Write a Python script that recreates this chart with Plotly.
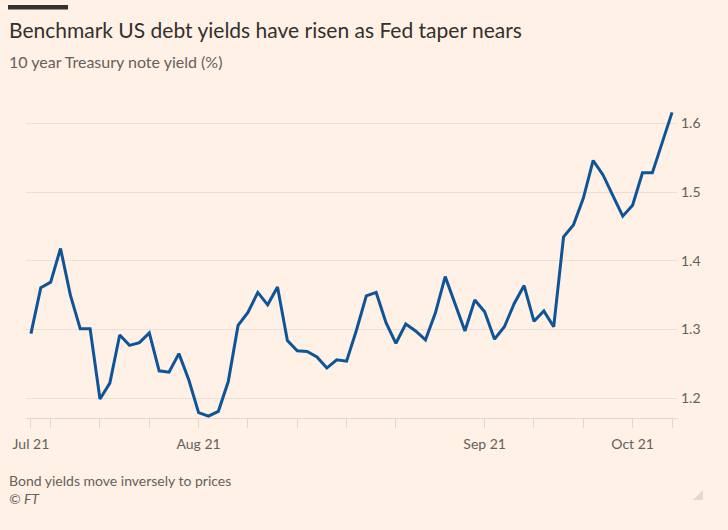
import plotly.graph_objects as go

# Business days (Jul 8 - Oct 8 2021; Sep 6 Labor Day holiday)
dates = [
    "2021-07-08", "2021-07-09",
    "2021-07-12", "2021-07-13", "2021-07-14", "2021-07-15", "2021-07-16",
    "2021-07-19", "2021-07-20", "2021-07-21", "2021-07-22", "2021-07-23",
    "2021-07-26", "2021-07-27", "2021-07-28", "2021-07-29", "2021-07-30",
    "2021-08-02", "2021-08-03", "2021-08-04", "2021-08-05", "2021-08-06",
    "2021-08-09", "2021-08-10", "2021-08-11", "2021-08-12", "2021-08-13",
    "2021-08-16", "2021-08-17", "2021-08-18", "2021-08-19", "2021-08-20",
    "2021-08-23", "2021-08-24", "2021-08-25", "2021-08-26", "2021-08-27",
    "2021-08-30", "2021-08-31", "2021-09-01", "2021-09-02", "2021-09-03",
    "2021-09-07", "2021-09-08", "2021-09-09", "2021-09-10",
    "2021-09-13", "2021-09-14", "2021-09-15", "2021-09-16", "2021-09-17",
    "2021-09-20", "2021-09-21", "2021-09-22", "2021-09-23", "2021-09-24",
    "2021-09-27", "2021-09-28", "2021-09-29", "2021-09-30", "2021-10-01",
    "2021-10-04", "2021-10-05", "2021-10-06", "2021-10-07", "2021-10-08",
]

yields = [
    1.294, 1.361,
    1.369, 1.418, 1.350, 1.301, 1.301,
    1.199, 1.222, 1.292, 1.277, 1.281,
    1.295, 1.240, 1.238, 1.265, 1.227,
    1.179, 1.174, 1.181, 1.224, 1.306,
    1.325, 1.354, 1.336, 1.362, 1.284,
    1.269, 1.268, 1.260, 1.244, 1.256,
    1.254, 1.299, 1.349, 1.354, 1.310,
    1.280, 1.308, 1.298, 1.285, 1.324,
    1.377, 1.336, 1.298, 1.343,
    1.326, 1.286, 1.304, 1.338, 1.364,
    1.312, 1.327, 1.304, 1.435, 1.452,
    1.491, 1.546, 1.525, 1.495, 1.465,
    1.481, 1.528, 1.528, 1.573, 1.616,
]

# Tick marks (first day, each Monday, last day) and their labels
tick_dates = [
    "2021-07-08", "2021-07-12", "2021-07-19", "2021-07-26",
    "2021-08-02", "2021-08-09", "2021-08-16", "2021-08-23", "2021-08-30",
    "2021-09-13", "2021-09-20", "2021-09-27", "2021-10-04", "2021-10-08",
]
tick_labels = [
    "Jul 21", "", "", "",
    "Aug 21", "", "", "", "",
    "Sep 21", "", "", "Oct 21", "",
]

y_ticks = [1.2, 1.3, 1.4, 1.5, 1.6]
y_tick_labels = ["1.2", "1.3", "1.4", "1.5", "1.6"]

title = "Benchmark US debt yields have risen as Fed taper nears"
subtitle = "10 year Treasury note yield (%)"
note = "Bond yields move inversely to prices"
source = "© FT"

BG = "#FFF1E5"
LINE = "#0F5499"
TEXT = "#33302E"
MUTED = "#66605C"
GRID = "#EADFD5"
FONT = "Lato, 'Noto Sans', sans-serif"

W, H = 728, 530
ML, MR, MT, MB = 26, 51, 100, 112
PW, PH = W - ML - MR, H - MT - MB


def px(x):
    return (x - ML) / PW


def py(y):
    return (H - MB - y) / PH


fig = go.Figure()
fig.add_trace(go.Scatter(
    x=dates, y=yields, mode="lines",
    line=dict(color=LINE, width=3),
    hoverinfo="x+y",
))

fig.update_layout(
    width=W, height=H,
    margin=dict(l=ML, r=MR, t=MT, b=MB, pad=0),
    paper_bgcolor=BG, plot_bgcolor=BG,
    showlegend=False,
    font=dict(family=FONT, color=MUTED, size=14),
    xaxis=dict(
        type="category",
        categoryorder="array", categoryarray=dates,
        range=[-0.5, len(dates) - 0.5],
        tickmode="array", tickvals=tick_dates, ticktext=tick_labels,
        ticks="outside", ticklen=9, tickwidth=1, tickcolor="#E3D8CE",
        ticklabelstandoff=4,
        showline=True, linecolor="#E3D8CE", linewidth=1,
        showgrid=False, zeroline=False,
        tickfont=dict(size=14, color=MUTED),
        fixedrange=True,
    ),
    yaxis=dict(
        side="right",
        range=[1.1713, 1.634],
        tickmode="array", tickvals=y_ticks, ticktext=y_tick_labels,
        ticks="", showgrid=True, gridcolor=GRID, gridwidth=1,
        ticklabelstandoff=3,
        zeroline=False, showline=False,
        tickfont=dict(size=14, color=MUTED),
        fixedrange=True,
    ),
)

annotations = [
    dict(text=title, x=px(8), y=py(16), xanchor="left", yanchor="top",
         font=dict(size=21, color=TEXT, family=FONT)),
    dict(text=subtitle, x=px(8), y=py(51), xanchor="left", yanchor="top",
         font=dict(size=16, color=MUTED, family=FONT)),
    dict(text=note, x=px(8), y=py(471), xanchor="left", yanchor="top",
         font=dict(size=14, color=MUTED, family=FONT)),
    dict(text="<i>" + source + "</i>", x=px(8), y=py(489), xanchor="left", yanchor="top",
         font=dict(size=14, color=MUTED, family=FONT)),
]
for a in annotations:
    a.update(xref="paper", yref="paper", showarrow=False, borderpad=0)
fig.update_layout(annotations=annotations)

fig.add_shape(type="rect", xref="paper", yref="paper",
              x0=px(8), x1=px(68), y0=py(5), y1=py(9.5),
              fillcolor=TEXT, line=dict(width=0), layer="above")
fig.add_shape(type="path", xref="paper", yref="paper",
              path=f"M {px(703)} {py(490)} L {px(703)} {py(500)} L {px(693)} {py(500)} Z",
              fillcolor="#E3D8CE", line=dict(width=0), layer="above")

fig.write_html(
    "out.html",
    config=dict(displayModeBar=False),
    post_script="document.body.style.margin='0';document.body.style.background='#FFF1E5';",
)
